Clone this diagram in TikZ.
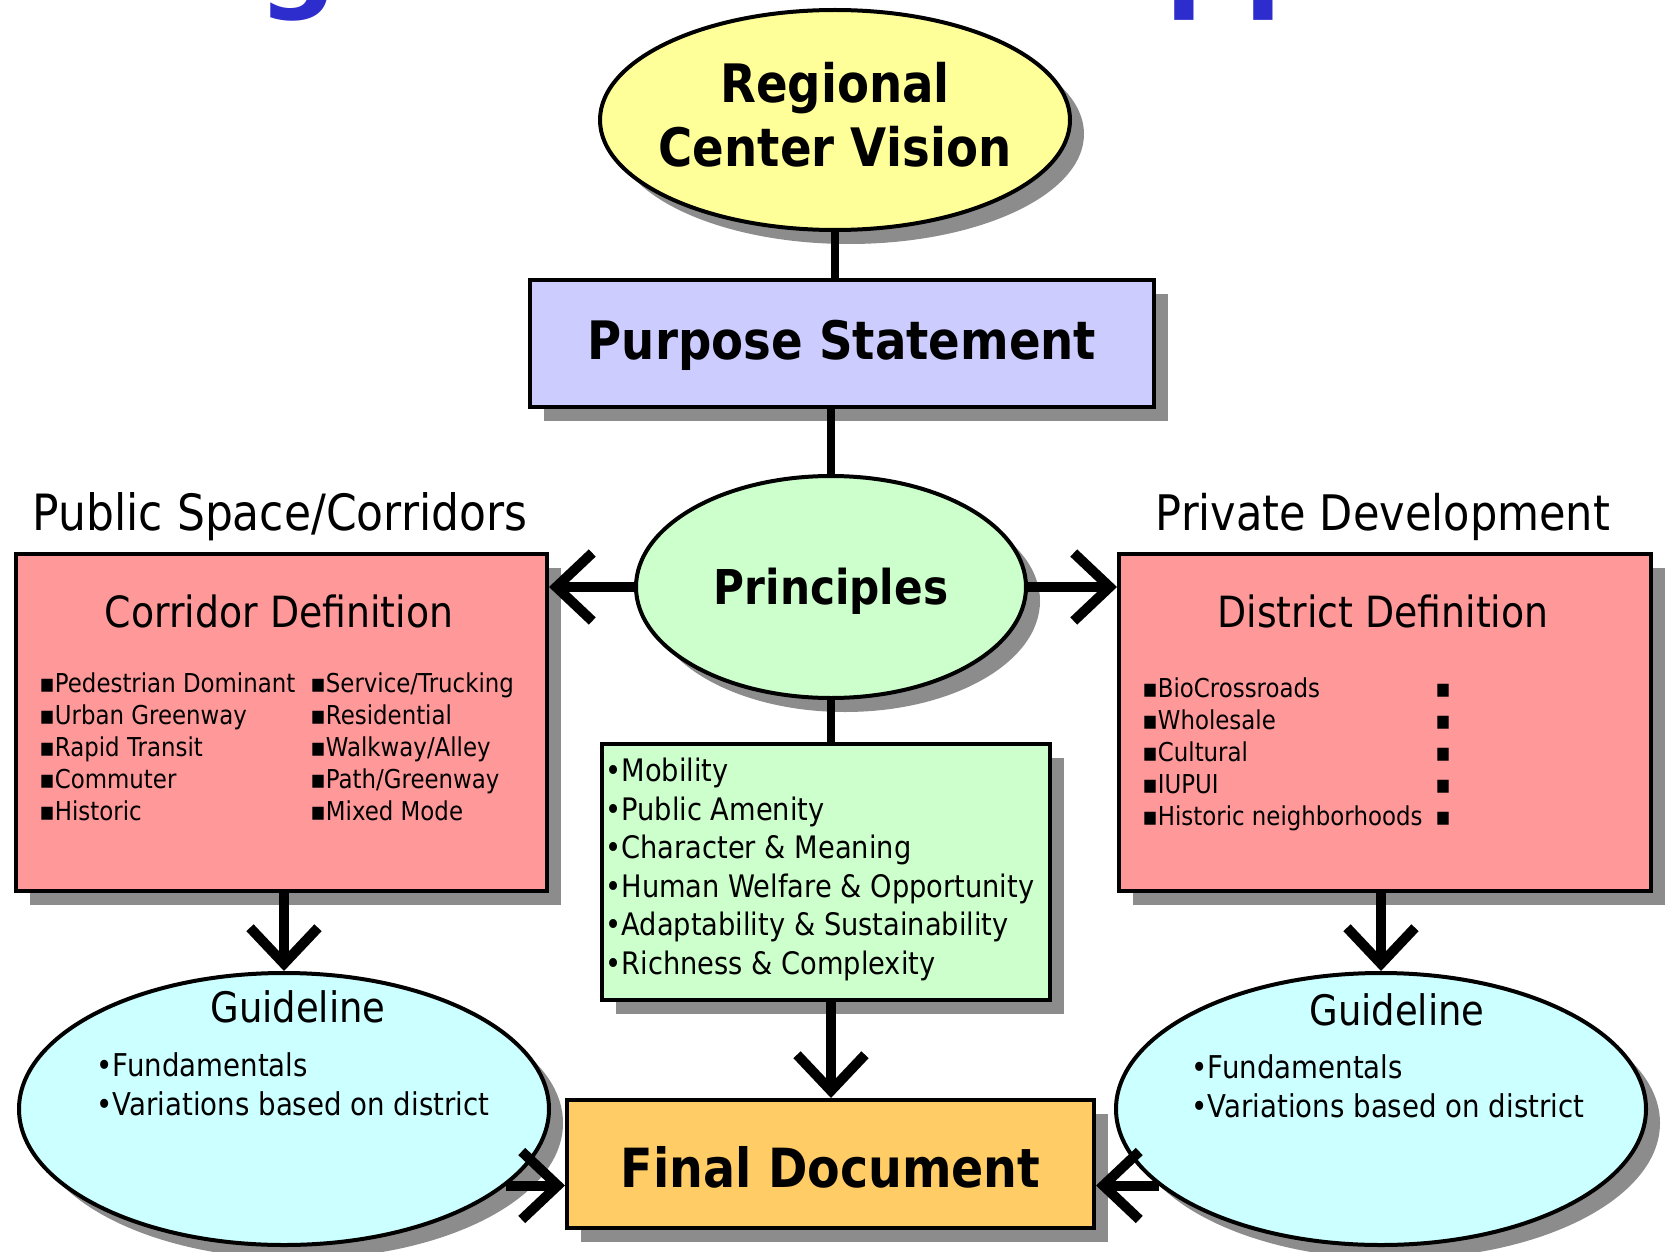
\documentclass[tikz,border=0pt]{standalone}
\usepackage{fontspec}
\setmainfont{DejaVu Sans}[FakeStretch=0.88]
\newfontfamily\titlefont{DejaVu Sans}
\usetikzlibrary{shapes.geometric,arrows.meta,shadows}
\definecolor{cyellow}{RGB}{255,255,153}
\definecolor{cpurple}{RGB}{204,204,255}
\definecolor{cgreen}{RGB}{204,255,204}
\definecolor{cpink}{RGB}{255,153,153}
\definecolor{ccyan}{RGB}{204,255,255}
\definecolor{corange}{RGB}{255,204,102}
\definecolor{ctitle}{RGB}{45,45,205}
\tikzset{
  shadowed/.style={drop shadow={shadow xshift=7pt,shadow yshift=-7pt,fill=black!45,opacity=1}},
  box/.style={draw=black,line width=2pt,shadowed,inner sep=0pt},
  ell/.style={ellipse,box},
  conn/.style={line width=4pt},
  arr/.style={line width=5pt,-{Straight Barb[length=18pt,width=34pt]}},
  lst/.style={anchor=north west,inner sep=0pt,align=left,font=\fontsize{13}{16}\selectfont},
  bul/.style={anchor=north west,inner sep=0pt,align=left},
  lbl/.style={inner sep=0pt}
}
\begin{document}
\begin{tikzpicture}[x=0.5pt,y=-0.5pt]
\fill[white] (0,0) rectangle (1671,1252);
\useasboundingbox (0,0) rectangle (1671,1252);
\begin{scope}
\clip (0,0) rectangle (1671,60);
\node[anchor=base west,inner sep=0pt,text=ctitle,font=\titlefont\bfseries\fontsize{55}{66}\selectfont] (title) at (-11,-2) {Design Guideline Approach};
\end{scope}
% shapes
\node[ell,fill=cyellow,minimum width=235pt,minimum height=110pt] (rv) at (835,120) {};
\node[box,fill=cpurple,minimum width=312pt,minimum height=63.5pt] (ps) at (842,343.5) {};
\node[ell,fill=cgreen,minimum width=195pt,minimum height=111pt] (pr) at (831,587) {};
\node[box,fill=cpink,minimum width=265.5pt,minimum height=168.5pt] (cd) at (281.5,722.5) {};
\node[box,fill=cpink,minimum width=266pt,minimum height=168.5pt] (dd) at (1385,722.5) {};
\node[box,fill=cgreen,minimum width=224pt,minimum height=128pt] (gb) at (826,872) {};
\node[box,fill=corange,minimum width=263.5pt,minimum height=64pt] (fd) at (830.5,1164) {};
\node[ell,fill=ccyan,minimum width=265pt,minimum height=136pt] (gl) at (284,1109) {};
\node[ell,fill=ccyan,minimum width=265pt,minimum height=136pt] (gr) at (1381,1109) {};
% connectors
\draw[conn] (rv.south) -- (rv.south |- ps.north);
\draw[conn] (pr.north |- ps.south) -- (pr.north);
\draw[conn] (pr.south) -- (pr.south |- gb.north);
\draw[arr] (pr.west) -- (pr.west -| cd.east);
\draw[arr] (pr.east) -- (pr.east -| dd.west);
\draw[arr] (gl.north |- cd.south) -- (gl.north);
\draw[arr] (gr.north |- dd.south) -- (gr.north);
\draw[arr] (pr.south |- gb.south) -- (pr.south |- fd.north);
\draw[arr] (gl.-19.5) -- (gl.-19.5 -| fd.west);
\draw[arr] (gr.199.5) -- (gr.199.5 -| fd.east);
% texts
\node[lbl,align=center,font=\bfseries\fontsize{26.5}{32}\selectfont] (rvt) at (835,115) {Regional\\Center Vision};
\node[lbl,font=\bfseries\fontsize{26.5}{32}\selectfont] (pst) at (842,345) {Purpose Statement};
\node[lbl,font=\bfseries\fontsize{24}{29}\selectfont] (prt) at (831,591) {Principles};
\node[lbl,font=\bfseries\fontsize{27}{32}\selectfont] (fdt) at (830.5,1167) {Final Document};
\node[lbl,font=\fontsize{25}{30}\selectfont] (lps) at (280,517) {Public Space/Corridors};
\node[lbl,font=\fontsize{24.5}{30}\selectfont] (lpd) at (1383,517) {Private Development};
\node[lbl,font=\fontsize{21.5}{26}\selectfont] (cdt) at (279,611) {Corridor Definition};
\node[lbl,font=\fontsize{21.5}{26}\selectfont] (ddt) at (1383,611) {District Definition};
\node[lst] (cl1) at (39,670) {\strut▪Pedestrian Dominant\\▪Urban Greenway\\▪Rapid Transit\\▪Commuter\\▪Historic};
\node[lst] (cl2) at (310,670) {\strut▪Service/Trucking\\▪Residential\\▪Walkway/Alley\\▪Path/Greenway\\▪Mixed Mode};
\node[lst] (dl1) at (1142,675) {\strut▪BioCrossroads\\▪Wholesale\\▪Cultural\\▪IUPUI\\▪Historic neighborhoods};
\node[lst] (dl2) at (1435,675) {\strut▪\\\strut▪\\\strut▪\\\strut▪\\\strut▪};
\node[bul,font=\fontsize{15.5}{19.25}\selectfont] (gbl) at (605,758) {•Mobility\\•Public Amenity\\•Character \& Meaning\\•Human Welfare \& Opportunity\\•Adaptability \& Sustainability\\•Richness \& Complexity};
\node[lbl,font=\fontsize{21}{26}\selectfont] (glh) at (298,1007) {Guideline};
\node[bul,font=\fontsize{15.7}{19.5}\selectfont] (glb) at (96,1052) {•Fundamentals\\•Variations based on district};
\node[lbl,font=\fontsize{21}{26}\selectfont] (grh) at (1397,1010) {Guideline};
\node[bul,font=\fontsize{15.7}{19.5}\selectfont] (grb) at (1191,1054) {•Fundamentals\\•Variations based on district};
\end{tikzpicture}
\end{document}
